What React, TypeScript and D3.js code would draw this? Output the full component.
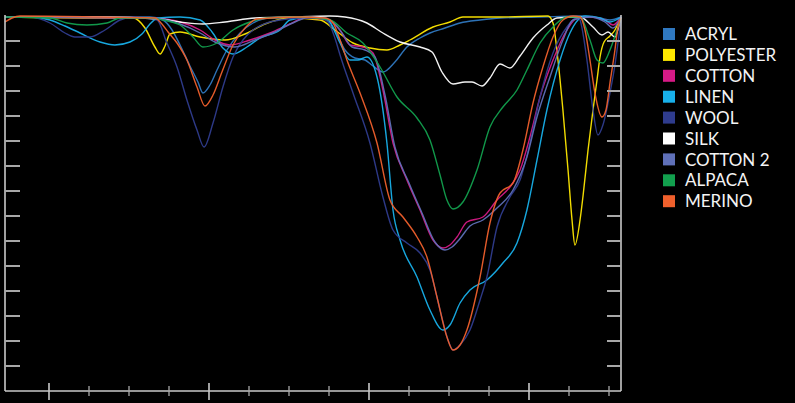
import React from "react";
import * as d3 from "d3";

type Pt = [number, number];

// wavenumber (cm-1), transmittance (%)
const ACRYL: Pt[] = [[4275,99.8],[3369,99.8],[3288,99.2],[3231,97.2],[3181,94.2],[3119,90.0],[3069,86.8],[3038,84.6],[2994,86.2],[2950,89.2],[2888,93.2],[2806,96.6],[2725,98.6],[2619,99.6],[2275,99.6],[2213,97.2],[2150,93.2],[2088,91.6],[2025,91.2],[1975,90.0],[1913,88.8],[1838,90.8],[1763,93.8],[1681,95.6],[1619,96.6],[1525,97.6],[1431,98.6],[1306,99.2],[1181,99.6],[931,99.8],[681,100],[556,99.6],[494,99.2],[425,99.8]];
const POLYESTER: Pt[] = [[4275,99.8],[3681,99.6],[3475,99.6],[3400,97.6],[3338,93.8],[3306,92.4],[3275,94.0],[3244,96.4],[3181,96.8],[3056,95.8],[2900,95.2],[2775,96.4],[2650,98.4],[2494,99.6],[2306,99.2],[2213,97.2],[2100,94.6],[1994,93.6],[1888,93.2],[1806,94.2],[1744,95.2],[1600,97.8],[1494,98.8],[1413,99.8],[1181,99.8],[881,100],[850,98.6],[819,91.2],[788,81.2],[756,69.2],[731,59.2],[713,54.2],[681,59.2],[663,63.8],[631,73.2],[600,81.2],[575,87.2],[556,91.8],[531,94.8],[494,96.0],[463,97.2],[431,99.6]];
const COTTON: Pt[] = [[4275,99.8],[3369,99.6],[3181,98.8],[3056,97.2],[2963,95.2],[2869,94.2],[2744,95.2],[2619,96.6],[2494,98.4],[2400,99.6],[2256,99.2],[2181,97.2],[2119,94.2],[2038,93.8],[1975,92.6],[1913,85.2],[1850,74.6],[1763,67.2],[1681,61.2],[1600,55.2],[1538,53.6],[1494,54.2],[1450,55.8],[1388,58.8],[1288,59.8],[1200,63.2],[1119,65.8],[1056,69.2],[994,75.8],[931,83.8],[850,91.2],[763,97.2],[700,99.6],[619,99.8],[525,99.2],[475,98.2],[425,99.8]];
const LINEN: Pt[] = [[4275,99.8],[4119,99.8],[3994,99.2],[3900,98.0],[3806,96.6],[3681,94.8],[3588,94.2],[3494,94.8],[3419,96.4],[3369,98.4],[3319,99.6],[3181,99.8],[3056,99.2],[2981,96.8],[2913,93.6],[2850,92.4],[2763,93.8],[2681,95.6],[2556,97.2],[2494,99.2],[2369,99.8],[2256,99.2],[2213,96.8],[2181,94.6],[2119,91.2],[2069,91.2],[2013,91.8],[1950,87.8],[1888,74.6],[1850,61.2],[1806,55.2],[1700,47.8],[1619,41.2],[1538,37.2],[1494,38.2],[1431,42.6],[1369,45.2],[1263,47.2],[1163,50.6],[1075,54.6],[1013,61.2],[950,71.2],[888,81.2],[806,91.2],[744,96.6],[694,99.2],[650,100],[556,99.6],[494,98.8],[425,99.8]];
const WOOL: Pt[] = [[4275,99.8],[4119,99.8],[3994,98.6],[3900,96.6],[3838,95.8],[3744,95.8],[3650,97.2],[3556,99.2],[3475,99.8],[3325,99.2],[3263,94.6],[3200,89.8],[3138,83.2],[3075,77.2],[3031,73.8],[2975,78.6],[2913,85.8],[2850,91.8],[2788,95.2],[2725,97.2],[2638,98.6],[2556,99.2],[2431,99.6],[2306,99.6],[2256,98.8],[2213,95.6],[2181,92.2],[2100,84.6],[1994,74.6],[1913,63.8],[1850,57.2],[1763,54.6],[1681,52.6],[1619,49.2],[1556,41.2],[1506,35.2],[1475,33.2],[1431,34.2],[1369,37.2],[1306,43.2],[1263,47.8],[1200,57.8],[1119,63.8],[1056,67.2],[994,74.6],[931,83.8],[850,92.6],[763,97.8],[694,99.8],[681,99.2],[638,91.2],[600,81.2],[569,76.2],[538,78.2],[494,84.6],[463,90.2],[444,94.6],[425,99.2]];
const SILK: Pt[] = [[4275,99.8],[3681,99.8],[3306,99.4],[3181,98.8],[3038,98.4],[2900,98.8],[2713,99.6],[2494,99.8],[2244,100],[2150,99.8],[2013,98.6],[1913,96.6],[1806,94.8],[1681,93.8],[1606,92.8],[1544,88.8],[1475,86.4],[1400,86.8],[1356,86.8],[1294,86.0],[1244,87.6],[1181,90.4],[1119,89.6],[1056,92.0],[975,95.6],[888,98.2],[825,99.6],[681,99.8],[600,97.8],[544,96.2],[506,96.8],[463,95.8],[431,99.2]];
const COTTON2: Pt[] = [[4275,99.8],[3369,99.6],[3181,98.4],[3056,96.6],[2963,94.8],[2838,93.8],[2713,95.2],[2588,96.8],[2463,98.8],[2369,99.8],[2244,99.2],[2169,96.6],[2106,93.8],[2025,93.2],[1963,91.8],[1900,84.2],[1838,73.8],[1750,66.6],[1669,60.6],[1588,54.8],[1525,53.2],[1481,53.8],[1438,55.2],[1369,58.0],[1288,59.2],[1200,61.6],[1100,65.2],[1013,71.8],[950,79.8],[869,87.8],[788,95.2],[725,99.2],[619,99.8],[525,98.8],[475,97.6],[425,99.8]];
const ALPACA: Pt[] = [[4275,99.8],[3994,99.6],[3888,98.6],[3763,98.2],[3638,98.6],[3556,99.6],[3369,99.6],[3288,99.2],[3181,98.2],[3100,95.8],[3038,93.8],[2950,94.6],[2850,97.2],[2744,98.8],[2638,99.6],[2431,99.8],[2244,99.2],[2138,96.6],[2038,94.6],[1931,89.8],[1825,83.8],[1700,79.6],[1619,75.2],[1556,68.2],[1513,63.2],[1475,61.4],[1413,62.8],[1325,69.2],[1244,77.8],[1163,81.8],[1075,85.2],[1013,89.2],[931,94.6],[850,97.8],[763,99.8],[681,99.8],[619,95.2],[575,91.2],[538,90.6],[494,93.2],[450,97.2],[425,99.6]];
const MERINO: Pt[] = [[4275,98.8],[4231,99.6],[4181,100],[3681,99.8],[3338,99.6],[3294,98.4],[3256,96.8],[3200,94.6],[3138,91.2],[3075,85.8],[3025,82.0],[2975,84.2],[2919,88.8],[2850,94.2],[2775,97.6],[2700,99.4],[2431,99.8],[2275,99.6],[2225,98.6],[2181,95.2],[2138,91.2],[2056,84.6],[1950,74.6],[1869,63.2],[1788,59.8],[1700,55.8],[1638,51.8],[1575,43.8],[1513,35.8],[1475,33.2],[1431,34.2],[1388,37.2],[1306,47.8],[1244,58.6],[1181,64.6],[1100,66.6],[1038,73.2],[975,82.6],[913,89.8],[850,95.8],[788,99.2],[725,100],[681,99.8],[650,97.2],[619,91.2],[588,84.6],[544,79.8],[519,81.2],[494,86.6],[463,93.2],[444,97.8],[425,99.6]];

const seriesNames = ["ACRYL", "POLYESTER", "COTTON", "LINEN", "WOOL", "SILK", "COTTON 2", "ALPACA", "MERINO"];
const seriesData: Pt[][] = [ACRYL, POLYESTER, COTTON, LINEN, WOOL, SILK, COTTON2, ALPACA, MERINO];
const seriesColors = ["#2f78c0", "#ffe800", "#d61a86", "#18b0ea", "#2f3c8e", "#ffffff", "#5f70b8", "#12a04e", "#f0602c"];

const yTicks = [95, 90, 85, 80, 75, 70, 65, 60, 55, 50, 45, 40, 35, 30];
const xMajorTicks = [4000, 3000, 2000, 1000];
const xMinorTicks = [3750, 3500, 3250, 2750, 2500, 2250, 1750, 1500, 1250, 750, 500];

const W = 795;
const H = 403;

export default function App() {
  const x = d3.scaleLinear().domain([4275, 425]).range([5, 621]);
  const y = d3.scaleLinear().domain([25, 100]).range([391, 16]);
  const line = d3
    .line<Pt>()
    .x((d) => x(d[0]))
    .y((d) => y(d[1]))
    .curve(d3.curveMonotoneX);
  const axisColor = "#c8c8c8";
  const tickColor = "#a8a8a8";
  const x0 = x.range()[0];
  const x1 = x.range()[1];
  const yb = y.range()[0];
  const yt = 15;
  return (
    <div style={{ position: "fixed", left: 0, top: 0, width: W, height: H, background: "#000" }}>
      <svg width={W} height={H} style={{ display: "block", background: "#000" }}>
        <rect x={0} y={0} width={W} height={H} fill="#000" />
        {seriesData.map((d, i) => (
          <path
            key={seriesNames[i]}
            d={line(d) || ""}
            fill="none"
            stroke={seriesColors[i]}
            strokeWidth={1.4}
            strokeLinejoin="round"
            strokeOpacity={0.95}
          />
        ))}
        {/* left axis */}
        <line x1={x0} x2={x0} y1={yt} y2={yb} stroke={axisColor} strokeWidth={1.6} />
        {yTicks.map((t) => (
          <line key={"l" + t} x1={x0} x2={x0 + 15} y1={y(t)} y2={y(t)} stroke={tickColor} strokeWidth={2} />
        ))}
        {/* right axis */}
        <line x1={x1} x2={x1} y1={yt} y2={yb} stroke={axisColor} strokeWidth={1.6} />
        {yTicks.map((t) => (
          <line key={"r" + t} x1={x1 - 14} x2={x1} y1={y(t)} y2={y(t)} stroke={tickColor} strokeWidth={2} />
        ))}
        {/* bottom axis */}
        <line x1={x0} x2={x1} y1={yb} y2={yb} stroke={axisColor} strokeWidth={1.6} />
        {xMajorTicks.map((t) => (
          <line key={"M" + t} x1={x(t)} x2={x(t)} y1={yb - 8} y2={yb + 9} stroke={axisColor} strokeWidth={1.6} />
        ))}
        {xMinorTicks.map((t) => (
          <line key={"m" + t} x1={x(t)} x2={x(t)} y1={yb - 5} y2={yb + 5} stroke={tickColor} strokeWidth={1.3} />
        ))}
        {/* legend */}
        {seriesNames.map((n, i) => {
          const cy = 34 + i * 20.9;
          return (
            <g key={"lg" + n}>
              <rect x={663} y={cy - 6} width={12} height={12} fill={seriesColors[i]} />
              <text
                x={685}
                y={cy}
                dy="0.36em"
                fill="#f4f4f4"
                fontFamily="Lato, 'Open Sans', sans-serif"
                fontSize={17}
              >
                {n}
              </text>
            </g>
          );
        })}
      </svg>
    </div>
  );
}
